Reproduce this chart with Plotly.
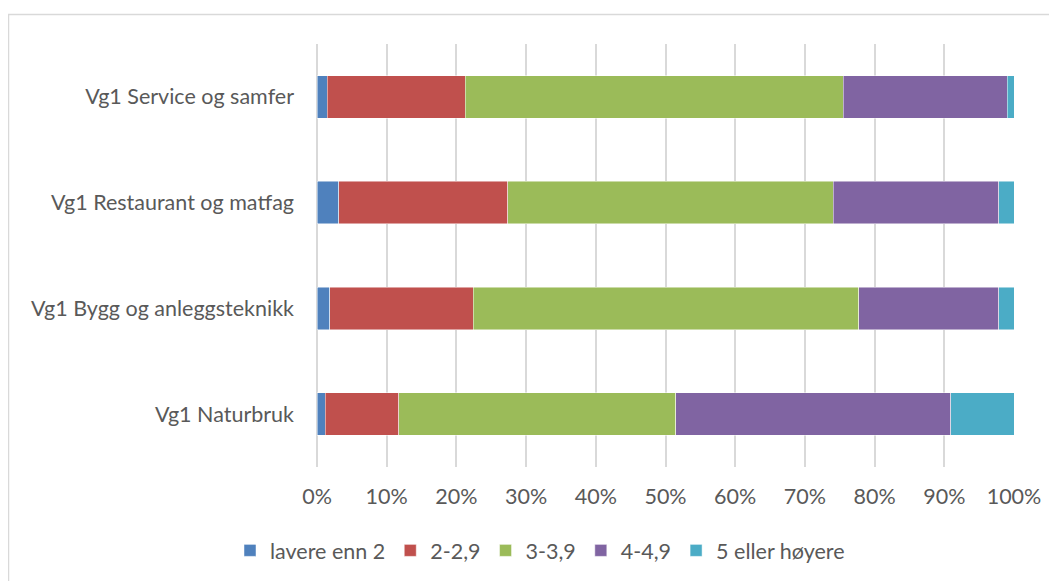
import plotly.graph_objects as go

categories = ["Vg1 Naturbruk", "Vg1 Bygg og anleggsteknikk", "Vg1 Restaurant og matfag", "Vg1 Service og samfer"]
series_names = ["lavere enn 2", "2-2,9", "3-3,9", "4-4,9", "5 eller høyere"]
lavere_enn_2 = [1.2, 1.8, 3.1, 1.5]
s_2_29 = [10.5, 20.6, 24.3, 19.8]
s_3_39 = [39.8, 55.3, 46.7, 54.2]
s_4_49 = [39.4, 20.1, 23.7, 23.5]
s_5_plus = [9.1, 2.2, 2.2, 1.0]
series_values = [lavere_enn_2, s_2_29, s_3_39, s_4_49, s_5_plus]
colors = ["#4F81BD", "#C0504D", "#9BBB59", "#8064A2", "#4BACC6"]
tick_vals = list(range(0, 101, 10))
tick_text = [f"{v}%" for v in tick_vals]

fig = go.Figure()
for name, vals, col in zip(series_names, series_values, colors):
    fig.add_trace(go.Bar(
        y=categories, x=vals, name=name, orientation="h",
        marker=dict(color=col, line=dict(color="rgba(255,255,255,0.6)", width=0.8)),
    ))

W, H = 1057, 581
L, R, T, B = 309, 51, 36, 121.5
pw, ph = W - L - R, H - T - B
FS = 21.5
TXT = "#595959"

fig.update_layout(
    width=W, height=H,
    barmode="stack", bargap=0.6,
    plot_bgcolor="white", paper_bgcolor="white",
    margin=dict(l=L, r=R, t=T, b=B),
    font=dict(family="Lato, Open Sans, sans-serif", size=FS, color=TXT),
    xaxis=dict(range=[0, 100], tickvals=tick_vals, ticktext=tick_text,
               showgrid=True, gridcolor="#D9D9D9", gridwidth=1.5,
               zeroline=True, zerolinecolor="#D9D9D9", zerolinewidth=1.5,
               showline=False, ticks="", ticklabelstandoff=14,
               tickfont=dict(size=FS, color=TXT)),
    yaxis=dict(showgrid=False, ticks="", showline=False,
               ticklabelstandoff=22, tickfont=dict(size=FS, color=TXT)),
    legend=dict(orientation="h", x=(532 - L) / pw, xanchor="center",
                y=(T + ph - 543) / ph, yanchor="middle",
                font=dict(size=FS, color=TXT), traceorder="normal"),
    showlegend=True,
)
fig.add_shape(type="rect", xref="paper", yref="paper",
              x0=(0.5 - L) / pw, x1=(W + 20 - L) / pw,
              y0=(T + ph - (H + 20)) / ph, y1=(T + ph - 6.5) / ph,
              line=dict(color="#D9D9D9", width=1.5), layer="below")
fig.write_html("out.html")
